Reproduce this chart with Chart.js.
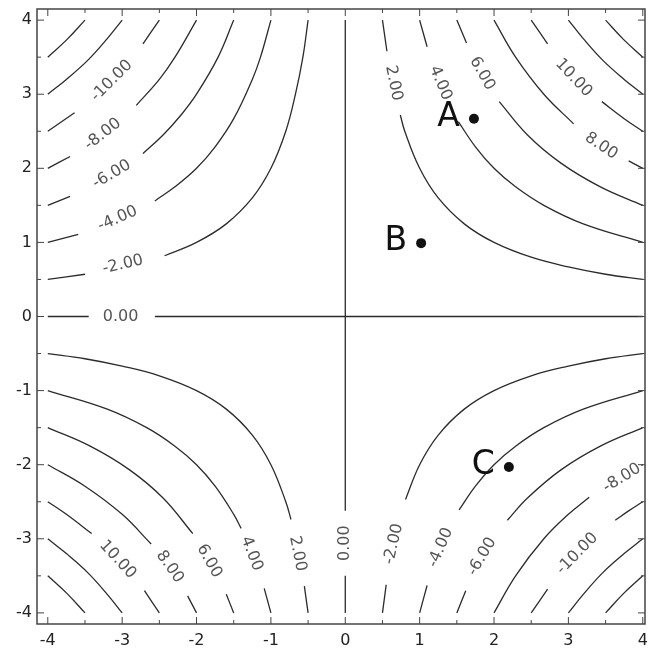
<!DOCTYPE html>
<html>
<head>
<meta charset="utf-8">
<script src="https://cdn.jsdelivr.net/npm/chart.js@4/dist/chart.umd.min.js"></script>
<style>
  html, body { margin: 0; padding: 0; background: #fff; }
</style>
</head>
<body>
<canvas id="contour-chart" width="650" height="652"></canvas>
<script>
// contour lines: [level, [x, y, x, y, ...], labelX, labelY]
// a null in the list is where the line is broken for its label
const linesQ1 = [
    [2, [0.5, 4, 0.56, 3.58, null, 0.74, 2.72, 0.8, 2.5, 1, 2, 1.25, 1.6, 1.6, 1.25, 2, 1, 2.5, 0.8, 3, 0.67, 3.5, 0.57, 4, 0.5], 0.65, 3.15],
    [4, [1, 4, 1.1, 3.64, null, 1.52, 2.63, 1.75, 2.29, 2, 2, 2.29, 1.75, 2.67, 1.5, 3.2, 1.25, 4, 1], 1.28, 3.15],
    [6, [1.5, 4, 1.63, 3.69, null, 2.07, 2.9, 2.45, 2.45, 2.9, 2.07, 3.43, 1.75, 4, 1.5], 1.84, 3.28],
    [8, [2, 4, 2.29, 3.5, 2.67, 3, 3.07, 2.6, null, 3.81, 2.1, 4, 2], 3.44, 2.3],
    [10, [2.5, 4, 2.72, 3.68, null, 3.45, 2.9, 3.75, 2.67, 4, 2.5], 3.07, 3.22],
    [12, [3, 4, 3.2, 3.75, 3.46, 3.46, 3.75, 3.2, 4, 3]],
    [14, [3.5, 4, 3.74, 3.74, 4, 3.5]]
];
const linesQ2 = [
    [-2, [-4, 0.5, -3.5, 0.57, null, -2.43, 0.82, -2, 1, -1.6, 1.25, -1.25, 1.6, -1, 2, -0.8, 2.5, -0.67, 3, -0.57, 3.5, -0.5, 4], -2.99, 0.7],
    [-4, [-4, 1, -3.59, 1.11, null, -2.56, 1.56, -2.29, 1.75, -2, 2, -1.75, 2.29, -1.5, 2.67, -1.25, 3.2, -1.14, 3.5, -1, 4], -3.06, 1.32],
    [-6, [-4, 1.5, -3.7, 1.62, null, -2.72, 2.2, -2.45, 2.45, -2.2, 2.73, -2, 3, -1.71, 3.5, -1.5, 4], -3.14, 1.92],
    [-8, [-4, 2, -3.7, 2.16, null, -2.81, 2.85, -2.5, 3.2, -2.29, 3.5, -2, 4], -3.26, 2.46],
    [-10, [-4, 2.5, -3.64, 2.75, null, -2.72, 3.68, -2.5, 4], -3.14, 3.18],
    [-12, [-4, 3, -3.75, 3.2, -3.46, 3.46, -3.2, 3.75, -3, 4]],
    [-14, [-4, 3.5, -3.74, 3.74, -3.5, 4]]
];
const linesQ3 = [
    [2, [-4, -0.5, -3.5, -0.57, -3, -0.67, -2.5, -0.8, -2, -1, -1.6, -1.25, -1.25, -1.6, -1, -2, -0.8, -2.5, -0.73, -2.74, null, -0.55, -3.64, -0.5, -4], -0.64, -3.2],
    [4, [-4, -1, -3.2, -1.25, -2.67, -1.5, -2.29, -1.75, -2, -2, -1.75, -2.29, -1.5, -2.67, -1.4, -2.86, null, -1.09, -3.67, -1, -4], -1.26, -3.2],
    [6, [-4, -1.5, -3.43, -1.75, -2.9, -2.07, -2.45, -2.45, -2.05, -2.93, null, -1.6, -3.75, -1.5, -4], -1.83, -3.3],
    [8, [-4, -2, -3.5, -2.29, -3, -2.67, -2.61, -3.07, null, -2.12, -3.77, -2, -4], -2.36, -3.38],
    [10, [-4, -2.5, -3.75, -2.67, -3.41, -2.93, null, -2.7, -3.7, -2.5, -4], -3.06, -3.28],
    [12, [-4, -3, -3.75, -3.2, -3.46, -3.46, -3.2, -3.75, -3, -4]],
    [14, [-4, -3.5, -3.74, -3.74, -3.5, -4]]
];
const linesQ4 = [
    [-2, [0.5, -4, 0.55, -3.62, null, 0.81, -2.47, 1, -2, 1.25, -1.6, 1.6, -1.25, 2, -1, 2.5, -0.8, 3, -0.67, 3.5, -0.57, 4, -0.5], 0.65, -3.07],
    [-4, [1, -4, 1.1, -3.63, null, 1.53, -2.61, 1.75, -2.29, 2, -2, 2.29, -1.75, 2.67, -1.5, 3.2, -1.25, 4, -1], 1.28, -3.12],
    [-6, [1.5, -4, 1.62, -3.7, null, 2.18, -2.75, 2.45, -2.45, 2.9, -2.07, 3.43, -1.75, 4, -1.5], 1.84, -3.24],
    [-8, [2, -4, 2.29, -3.5, 2.67, -3, 3, -2.67, 3.28, -2.44, null, 3.98, -2.01, 4, -2], 3.72, -2.18],
    [-10, [2.5, -4, 2.72, -3.68, null, 3.63, -2.75, 3.8, -2.63, 4, -2.5], 3.12, -3.2],
    [-12, [3, -4, 3.2, -3.75, 3.46, -3.46, 3.75, -3.2, 4, -3]],
    [-14, [3.5, -4, 3.74, -3.74, 4, -3.5]]
];
const zeroLines = [
    [0, [-4, 0, -3.45, 0, null, -2.56, 0, 4, 0], -3.02, 0],
    [0, [0, 4, 0, -2.62, null, 0, -3.5, 0, -4], 0, -3.06]
];

const tickValues = [-4, -3, -2, -1, 0, 1, 2, 3, 4];
const minorTickValues = [-3.5, -2.5, -1.5, -0.5, 0.5, 1.5, 2.5, 3.5];

const pointNames = ['A', 'B', 'C'];
const pointX = [1.73, 1.02, 2.2];
const pointY = [2.67, 0.99, -2.03];

const allLines = [].concat(linesQ1, linesQ2, linesQ3, linesQ4, zeroLines);

function toPoints(flat) {
    var out = [];
    for (var i = 0; i < flat.length; i++) {
        if (flat[i] === null) {
            out.push({ x: flat[i - 2], y: null });
        } else {
            out.push({ x: flat[i], y: flat[i + 1] });
            i++;
        }
    }
    return out;
}

var datasets = allLines.map(function (line) {
    return {
        label: line[0].toFixed(2),
        data: toPoints(line[1]),
        showLine: true,
        borderColor: '#2b2b2b',
        borderWidth: 1.3,
        pointRadius: 0,
        tension: line[0] === 0 ? 0 : 0.4,
        spanGaps: false,
        fill: false
    };
});
datasets.push({
    label: 'points',
    data: pointX.map(function (v, i) { return { x: v, y: pointY[i] }; }),
    showLine: false,
    pointRadius: 5,
    pointBackgroundColor: '#111',
    pointBorderWidth: 0
});

// labels on the lines, the frame with inward ticks, and the A/B/C letters
const decorations = {
    id: 'decorations',
    afterDatasetsDraw: function (chart) {
        var ctx = chart.ctx, a = chart.chartArea;
        var xs = chart.scales.x, ys = chart.scales.y;
        ctx.save();

        ctx.font = '16px "DejaVu Sans"';
        ctx.fillStyle = '#555';
        ctx.textAlign = 'center';
        ctx.textBaseline = 'middle';
        allLines.forEach(function (line) {
            if (line[2] === undefined) return;
            var flat = line[1];
            var g = flat.indexOf(null);
            var dx = xs.getPixelForValue(flat[g + 1]) - xs.getPixelForValue(flat[g - 2]);
            var dy = ys.getPixelForValue(flat[g + 2]) - ys.getPixelForValue(flat[g - 1]);
            var ang = Math.atan2(dy, dx);
            if (ang >= Math.PI / 2) ang -= Math.PI;
            if (ang < -Math.PI / 2) ang += Math.PI;
            ctx.save();
            ctx.translate(xs.getPixelForValue(line[2]), ys.getPixelForValue(line[3]));
            ctx.rotate(ang);
            ctx.fillText(line[0].toFixed(2), 0, 0);
            ctx.restore();
        });

        ctx.strokeStyle = '#444';
        ctx.lineWidth = 1.5;
        ctx.strokeRect(a.left, a.top, a.right - a.left, a.bottom - a.top);

        ctx.lineWidth = 1;
        function ticks(values, len) {
            ctx.beginPath();
            values.forEach(function (v) {
                var px = xs.getPixelForValue(v);
                ctx.moveTo(px, a.bottom); ctx.lineTo(px, a.bottom - len);
                ctx.moveTo(px, a.top); ctx.lineTo(px, a.top + len);
                var py = ys.getPixelForValue(v);
                ctx.moveTo(a.left, py); ctx.lineTo(a.left + len, py);
                ctx.moveTo(a.right, py); ctx.lineTo(a.right - len, py);
            });
            ctx.stroke();
        }
        ticks(tickValues, 7);
        ticks(minorTickValues, 4);

        ctx.font = '33px "DejaVu Sans"';
        ctx.fillStyle = '#111';
        ctx.textAlign = 'right';
        ctx.textBaseline = 'alphabetic';
        pointNames.forEach(function (name, i) {
            ctx.fillText(name, xs.getPixelForValue(pointX[i]) - 14, ys.getPixelForValue(pointY[i]) + 7);
        });
        ctx.restore();
    }
};

var tickFont = { family: 'DejaVu Sans', size: 16 };

new Chart(document.getElementById('contour-chart').getContext('2d'), {
    type: 'scatter',
    data: { datasets: datasets },
    options: {
        responsive: false,
        animation: false,
        events: [],
        layout: { padding: { top: 9, right: 3, left: 0, bottom: 0 } },
        plugins: {
            legend: { display: false },
            tooltip: { enabled: false }
        },
        scales: {
            x: {
                type: 'linear',
                min: -4.145,
                max: 4.03,
                afterBuildTicks: function (scale) {
                    scale.ticks = tickValues.map(function (v) { return { value: v }; });
                },
                afterFit: function (scale) {
                    scale.height = 28;
                    scale.paddingLeft = 0;
                    scale.paddingRight = 0;
                },
                grid: { display: false, drawTicks: false },
                border: { display: false },
                ticks: {
                    autoSkip: false,
                    maxRotation: 0,
                    padding: 7,
                    color: '#222',
                    font: tickFont
                }
            },
            y: {
                type: 'linear',
                min: -4.15,
                max: 4.15,
                afterBuildTicks: function (scale) {
                    scale.ticks = tickValues.map(function (v) { return { value: v }; });
                },
                afterFit: function (scale) {
                    scale.width = 37;
                    scale.paddingTop = 0;
                    scale.paddingBottom = 0;
                },
                grid: { display: false, drawTicks: false },
                border: { display: false },
                ticks: {
                    autoSkip: false,
                    padding: 5,
                    color: '#222',
                    font: tickFont
                }
            }
        }
    },
    plugins: [decorations]
});
</script>
</body>
</html>
